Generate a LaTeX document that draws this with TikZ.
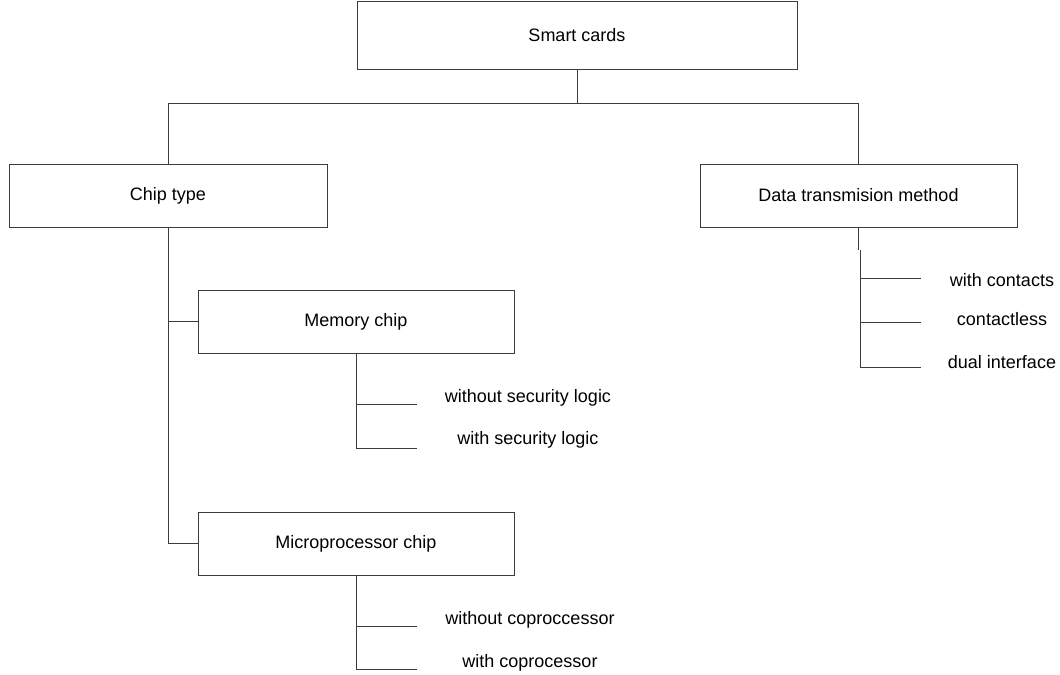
\documentclass[tikz,border=0pt]{standalone}
\usepackage{fontspec}
\setmainfont{Liberation Sans}
\usepackage{tikz}
\usetikzlibrary{positioning}
\definecolor{LineGray}{HTML}{3C3C3C}

\tikzset{
  box/.style={draw=LineGray, line width=0.7pt, rectangle, minimum width=316*0.025cm, minimum height=63*0.025cm, inner sep=0pt},
  leaf/.style={inner sep=0pt, anchor=center},
  link/.style={draw=LineGray, line width=0.7pt}
}

\begin{document}
\begin{tikzpicture}[x=0.025cm, y=-0.025cm, font=\fontsize{12.8}{15}\selectfont]
    \useasboundingbox (0,0) rectangle (1060,675);

    % Top box
    \node[box, minimum width=440*0.025cm, minimum height=68*0.025cm] (root) at (577,35) {Smart cards};

    % Second level
    \node[box, minimum width=318*0.025cm] (chip) at (168,195.5) {Chip type};
    \node[box, minimum width=317*0.025cm] (data) at (858.5,195.5) {Data transmision method};

    % Chip kinds
    \node[box] (mem) at (356,321.5) {Memory chip};
    \node[box] (micro) at (356,543.5) {Microprocessor chip};

    % Leaves
    \node[leaf] (wosec) at (528,398) {without security logic};
    \node[leaf] (wsec) at (528,440) {with security logic};
    \node[leaf] (wocop) at (530,620) {without coproccessor};
    \node[leaf] (wcop) at (530,663) {with coprocessor};
    \node[leaf] (contacts) at (1002,280) {with contacts};
    \node[leaf] (cless) at (1002,319) {contactless};
    \node[leaf] (dual) at (1002,362) {dual interface};

    % Branch points and line ends
    \coordinate (bus) at (577,103);
    \coordinate (wosec-end) at (417,404);
    \coordinate (wsec-end) at (417,448);
    \coordinate (wocop-end) at (417,626);
    \coordinate (wcop-end) at (417,669);
    \coordinate (jog) at (860,250);
    \coordinate (contacts-end) at (921,278);
    \coordinate (cless-end) at (921,322);
    \coordinate (dual-end) at (921,367);

    % Connectors
    \draw[link] (root.south) -- (bus) -| (chip.north);
    \draw[link] (bus) -| (data.north);
    \draw[link] (chip.south) |- (mem.west);
    \draw[link] (chip.south) |- (micro.west);

    \draw[link] (mem.south) |- (wosec-end);
    \draw[link] (mem.south) |- (wsec-end);
    \draw[link] (micro.south) |- (wocop-end);
    \draw[link] (micro.south) |- (wcop-end);

    \draw[link] (data.south) -- (data.south |- jog);
    \draw[link] (jog) |- (contacts-end);
    \draw[link] (jog) |- (cless-end);
    \draw[link] (jog) |- (dual-end);

\end{tikzpicture}
\end{document}
